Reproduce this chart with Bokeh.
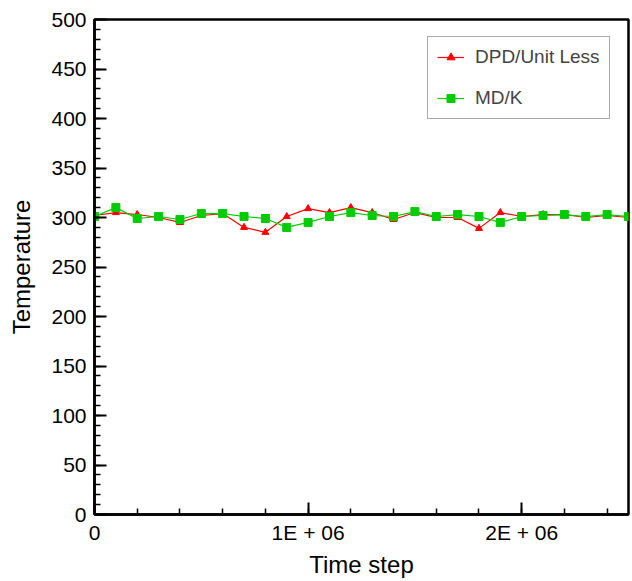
from bokeh.plotting import figure
from bokeh.models import Range1d, SingleIntervalTicker, Legend, LegendItem
from bokeh.embed import file_html
from bokeh.resources import INLINE

# ---- data ----
time_step = [0, 100000, 200000, 300000, 400000, 500000, 600000, 700000, 800000, 900000,
             1000000, 1100000, 1200000, 1300000, 1400000, 1500000, 1600000, 1700000,
             1800000, 1900000, 2000000, 2100000, 2200000, 2300000, 2400000, 2500000]
dpd_unitless = [302, 305, 303, 300, 295, 302, 304, 290, 285, 301, 309, 305, 310,
                305, 298, 305, 300, 300, 289, 305, 301, 303, 303, 300, 302, 300]
md_kelvin = [301, 310, 299, 301, 298, 304, 304, 301, 299, 290, 295, 301, 305,
             302, 301, 306, 301, 303, 301, 295, 301, 302, 303, 301, 303, 301]
x_tick_labels = {0: "0", 1000000: "1E + 06", 2000000: "2E + 06"}
series_names = ["DPD/Unit Less", "MD/K"]

FONT = "Liberation Sans"

p = figure(width=632, height=581, output_backend="svg", toolbar_location=None,
           x_range=Range1d(0, 2500000), y_range=Range1d(0, 500),
           min_border_left=94, min_border_right=4, min_border_top=19, min_border_bottom=67)

p.xgrid.visible = False
p.ygrid.visible = False
p.outline_line_color = "black"
p.outline_line_width = 2.5
p.outline_line_alpha = 1

p.xaxis.ticker = SingleIntervalTicker(interval=1000000, num_minor_ticks=5)
p.yaxis.ticker = SingleIntervalTicker(interval=50, num_minor_ticks=5)
p.xaxis.major_label_overrides = x_tick_labels

for ax in (p.xaxis[0], p.yaxis[0]):
    ax.axis_line_width = 2.5
    ax.axis_line_color = "black"
    ax.major_tick_in = 12
    ax.major_tick_out = 0
    ax.minor_tick_in = 6
    ax.minor_tick_out = 0
    ax.major_tick_line_width = 2
    ax.minor_tick_line_width = 1.5
    ax.major_tick_line_color = "black"
    ax.minor_tick_line_color = "black"
    ax.major_label_text_font = FONT
    ax.major_label_text_font_size = "21px"
    ax.major_label_text_color = "black"
    ax.axis_label_text_font = FONT
    ax.axis_label_text_font_size = "24px"
    ax.axis_label_text_font_style = "normal"
    ax.axis_label_text_color = "black"

p.xaxis.axis_label = "Time step"
p.yaxis.axis_label = "Temperature"
p.xaxis.major_label_standoff = 6
p.xaxis.axis_label_standoff = 4
p.yaxis.major_label_standoff = 8
p.yaxis.axis_label_standoff = 13

red = "#ff0000"
green = "#00cc00"

r1l = p.line(time_step, dpd_unitless, line_color=red, line_width=1.2)
r1s = p.scatter(time_step, dpd_unitless, marker="triangle", size=7,
                fill_color=red, line_color=red)
r2l = p.line(time_step, md_kelvin, line_color=green, line_width=1.2)
r2s = p.scatter(time_step, md_kelvin, marker="square", size=8,
                fill_color=green, line_color=green)

legend = Legend(items=[LegendItem(label=series_names[0], renderers=[r1l, r1s]),
                       LegendItem(label=series_names[1], renderers=[r2l, r2s])],
                location=(333, 395))
legend.border_line_color = "#555555"
legend.border_line_width = 1.5
legend.background_fill_alpha = 1
legend.label_text_font = FONT
legend.label_text_font_size = "19px"
legend.padding = 9
legend.spacing = 19
legend.glyph_width = 27
legend.label_standoff = 11
legend.margin = 0
p.add_layout(legend, "center")

open("out.html", "w").write(file_html(p, INLINE))
